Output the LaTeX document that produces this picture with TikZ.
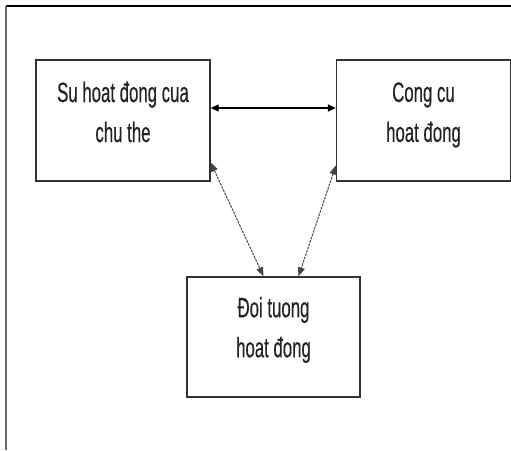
\documentclass[tikz,border=0pt]{standalone}
\usepackage{fontspec}
\newfontfamily\condsans[FakeStretch=0.6,FakeBold=0.3]{Liberation Sans}
\usetikzlibrary{arrows.meta,calc}
\definecolor{boxline}{HTML}{333333}
\definecolor{txtcol}{HTML}{222222}
\definecolor{dashcol}{HTML}{444444}
\tikzset{
  boxnode/.style={draw=boxline, line width=1.3pt, minimum width=174pt, minimum height=121pt, inner sep=0pt},
  boxtext/.style={align=center, text=txtcol, font=\condsans\fontsize{28}{40}\selectfont, inner sep=0pt},
  solidlink/.style={line width=1.3pt, {Triangle[length=8pt,width=7pt]}-{Triangle[length=8pt,width=7pt]}},
  dashlink/.style={line width=1pt, draw=dashcol, dash pattern=on 2.5pt off 1pt, {Triangle[length=9pt,width=7pt]}-{Triangle[length=9pt,width=7pt]}},
  framelink/.style={line width=1.6pt}
}
\begin{document}
\begin{tikzpicture}[x=1pt,y=-1pt]
  \useasboundingbox (0,0) rectangle (511,450);
  % outer frame
  \draw[framelink, draw=black] (511,6) -- (6,6);
  \draw[framelink, draw=gray!80!black] (6,6) -- (6,450);
  % boxes
  \node[boxnode] (L) at (123,120.5) {};
  \node[boxnode] (R) at (423.5,120.5) {};
  \node[boxnode, minimum width=173pt, minimum height=120pt] (B) at (273.5,337) {};
  % texts
  \node[boxtext] (Lt) at ([yshift=8.5pt]L.center) {Su hoat đong cua\\chu the};
  \node[boxtext] (Rt) at ([yshift=5.5pt]R.center) {Cong cu\\hoat đong};
  \node[boxtext] (Bt) at ([yshift=7pt]B.center) {Đoi tuong\\hoat đong};
  % connectors
  \draw[solidlink] ([yshift=12.5pt]L.east) -- ([yshift=12.5pt]R.west);
  \draw[dashlink] ([yshift=-42pt]L.east) -- ([xshift=-10pt]B.north);
  \draw[dashlink] ([yshift=-45pt]R.west) -- ([xshift=25pt]B.north);
\end{tikzpicture}
\end{document}
